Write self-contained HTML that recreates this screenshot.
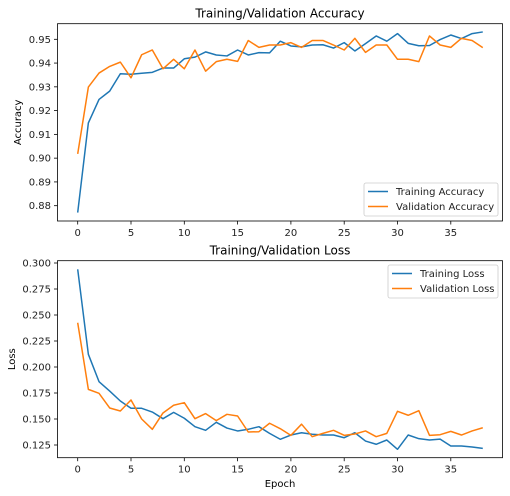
<!DOCTYPE html>
<html><head><meta charset="utf-8"><style>
body{margin:0;background:#fff;}
svg{display:block;font-family:"DejaVu Sans","Liberation Sans",sans-serif;}
</style></head><body>
<svg id="chart" width="510" height="496" viewBox="0 0 510 496" xmlns="http://www.w3.org/2000/svg"></svg>
<script>
const epochs = Array.from({length:39},(_,i)=>i);
const trainAcc = [0.8771,0.9148,0.9247,0.9282,0.9355,0.9353,0.9357,0.9361,0.9379,0.9379,0.9418,0.9425,0.9447,0.9434,0.9430,0.9455,0.9434,0.9444,0.9443,0.9492,0.9472,0.9468,0.9476,0.9477,0.9463,0.9486,0.9451,0.9482,0.9514,0.9492,0.9524,0.9483,0.9473,0.9474,0.9499,0.9518,0.9503,0.9524,0.9531];
const valAcc = [0.9018,0.9299,0.9358,0.9386,0.9404,0.9338,0.9435,0.9455,0.9376,0.9416,0.9376,0.9455,0.9366,0.9406,0.9416,0.9407,0.9495,0.9466,0.9476,0.9476,0.9486,0.9466,0.9495,0.9495,0.9476,0.9455,0.9504,0.9445,0.9476,0.9476,0.9416,0.9416,0.9406,0.9514,0.9476,0.9466,0.9504,0.9495,0.9465];
const trainLoss = [0.2939,0.2122,0.1859,0.1769,0.1673,0.1603,0.1603,0.1567,0.1503,0.1564,0.1507,0.1426,0.1391,0.1468,0.1413,0.1385,0.1401,0.1426,0.1362,0.1305,0.1346,0.1368,0.1353,0.1346,0.1346,0.1320,0.1368,0.1288,0.1257,0.1298,0.1209,0.1346,0.1311,0.1298,0.1307,0.1240,0.1240,0.1231,0.1218];
const valLoss = [0.2426,0.1785,0.1747,0.1606,0.1577,0.1683,0.1500,0.1401,0.1558,0.1632,0.1657,0.1503,0.1552,0.1484,0.1545,0.1529,0.1375,0.1378,0.1459,0.1407,0.1343,0.1450,0.1330,0.1362,0.1391,0.1343,0.1356,0.1385,0.1330,0.1362,0.1574,0.1536,0.1580,0.1343,0.1349,0.1381,0.1346,0.1385,0.1416];
const xTicks = [0,5,10,15,20,25,30,35];
const accTicks = [0.88,0.89,0.90,0.91,0.92,0.93,0.94,0.95];
const lossTicks = [0.125,0.150,0.175,0.200,0.225,0.250,0.275,0.300];

const svg = document.getElementById('chart');
const NS = 'http://www.w3.org/2000/svg';
function mk(tag, attrs, parent){const e=document.createElementNS(NS,tag);for(const k in attrs)e.setAttribute(k,attrs[k]);(parent||svg).appendChild(e);return e;}
const x = v => 77.7 + v*10.66;

function panel(cfg){
  const g = mk('g',{});
  
  
  const y = v => cfg.y0 + (v-cfg.v0)*cfg.scale;
  const frame = mk('rect',{x:57.5,y:cfg.top,width:445,height:cfg.bottom-cfg.top,fill:'none',stroke:'#000','stroke-width':0.8},g);
  
  
  xTicks.forEach(t=>{
    mk('line',{x1:x(t),x2:x(t),y1:cfg.bottom,y2:cfg.bottom+3.5,stroke:'#000','stroke-width':0.8},g);
    const tx = mk('text',{x:x(t),y:cfg.bottom+15,'font-size':10,'text-anchor':'middle',fill:'#222'},g);
    tx.textContent = t;
    
    
  });
  cfg.ticks.forEach(t=>{
    mk('line',{x1:57.5,x2:54,y1:y(t),y2:y(t),stroke:'#000','stroke-width':0.8},g);
    const tx = mk('text',{x:51,y:y(t)+3.5,'font-size':10,'text-anchor':'end',fill:'#222'},g);
    tx.textContent = t.toFixed(cfg.dec);
    
    
  });
  const title = mk('text',{x:280,y:cfg.top-6,'font-size':12,'text-anchor':'middle',fill:'#000'},g);
  title.textContent = cfg.title;
  
  
  const yl = mk('text',{x:0,y:0,'font-size':10,'text-anchor':'middle',fill:'#000',transform:`translate(${cfg.ylx},${(cfg.top+cfg.bottom)/2}) rotate(-90)`},g);
  yl.textContent = cfg.ylabel;
  
  
  cfg.series.forEach(s=>{
    const p = mk('polyline',{points:s.data.map((v,i)=>x(epochs[i])+','+y(v)).join(' '),fill:'none',stroke:s.color,'stroke-width':1.5,'stroke-linejoin':'round'},g);
    
    
  });
  const L = cfg.legend;
  const lg = mk('g',{},g);
  
  
  mk('rect',{x:L.x,y:L.y,width:L.w,height:33,rx:2,fill:'#fff',stroke:'#ccc','stroke-width':0.8},lg);
  cfg.series.forEach((s,i)=>{
    const ly = L.y+8.5+i*15;
    mk('line',{x1:L.x+4,x2:L.x+24,y1:ly,y2:ly,stroke:s.color,'stroke-width':1.5},lg);
    const t = mk('text',{x:L.x+32,y:ly+3.5,'font-size':10,fill:'#222'},lg);
    t.textContent = s.label;
    
    
  });
}
panel({name:'accuracy-chart',title:'Training/Validation Accuracy',ylabel:'Accuracy',ylx:21,top:23.7,bottom:221,y0:39.3,v0:0.95,scale:-2377,ticks:accTicks,dec:2,
  legend:{x:364,y:183,w:134},
  series:[{key:'training-accuracy-line',label:'Training Accuracy',data:trainAcc,color:'#1f77b4'},{key:'validation-accuracy-line',label:'Validation Accuracy',data:valAcc,color:'#ff7f0e'}]});
panel({name:'loss-chart',title:'Training/Validation Loss',ylabel:'Loss',ylx:15,top:260.7,bottom:457.7,y0:263,v0:0.300,scale:-1040,ticks:lossTicks,dec:3,
  legend:{x:388,y:265,w:110},
  series:[{key:'training-loss-line',label:'Training Loss',data:trainLoss,color:'#1f77b4'},{key:'validation-loss-line',label:'Validation Loss',data:valLoss,color:'#ff7f0e'}]});
const xl = mk('text',{x:280,y:487,'font-size':10,'text-anchor':'middle',fill:'#000'});
xl.textContent='Epoch';


</script>
</body></html>
